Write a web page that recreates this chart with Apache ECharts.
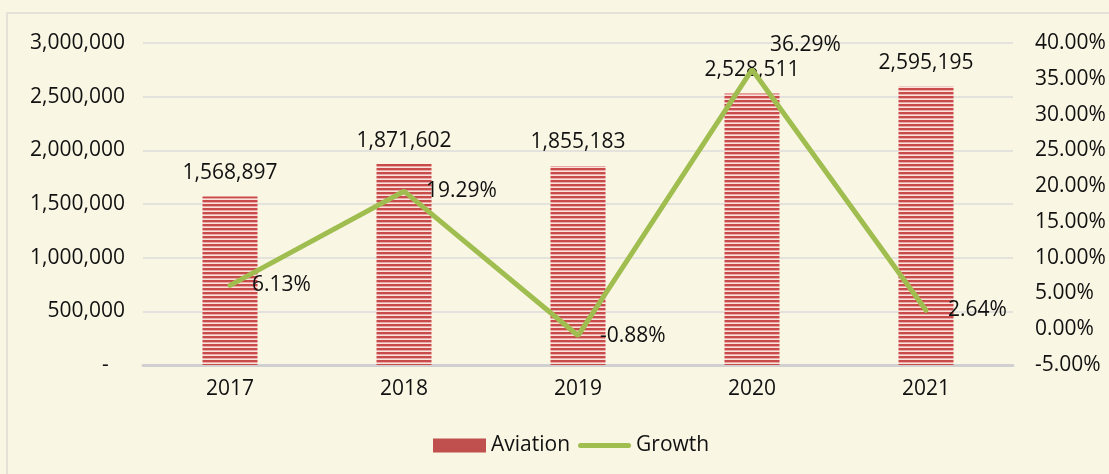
<!DOCTYPE html>
<html>
<head>
<meta charset="utf-8">
<style>
  html, body { margin: 0; padding: 0; background: #faf6e4; }
  #main { width: 1109px; height: 474px; }
</style>
<script src="https://cdn.jsdelivr.net/npm/echarts@6/dist/echarts.min.js"></script>
</head>
<body>
<div id="main"></div>
<script>
// 数据
var years = ['2017', '2018', '2019', '2020', '2021'];
var aviation = [1568897, 1871602, 1855183, 2528511, 2595195];
var growth = [6.13, 19.29, -0.88, 36.29, 2.64];

var FONT = '"Open Sans", sans-serif';
var GREEN = '#9fbe4f';

// 横条纹填充
function stripePattern() {
    var c = document.createElement('canvas');
    c.width = 4;
    c.height = 4;
    var ctx = c.getContext('2d');
    ctx.fillStyle = '#c94a4a';
    ctx.fillRect(0, 0, 4, 2);
    ctx.fillStyle = '#eba9a6';
    ctx.fillRect(0, 2, 4, 1);
    ctx.fillStyle = '#f8e2dc';
    ctx.fillRect(0, 3, 4, 1);
    return c;
}

// 增长率标签（2020 标签放在上方）
var growthLabels = growth.map(function (v, i) {
    if (i === 3) {
        return { value: v, label: { offset: [-4, -25] } };
    }
    return v;
});

var myChart = echarts.init(document.getElementById('main'));
myChart.setOption({
    backgroundColor: '#faf6e4',
    animation: false,
    textStyle: { fontFamily: FONT },
    graphic: [{
        type: 'rect',
        shape: { x: 7, y: 13, width: 1200, height: 600 },
        style: { fill: 'none', stroke: '#e5e1d6', lineWidth: 2 },
        silent: true
    }],
    grid: { left: 143, right: 96, top: 43, bottom: 109 },
    legend: {
        bottom: 13,
        left: 428,
        itemWidth: 53,
        itemHeight: 14,
        itemGap: 8,
        symbolKeepAspect: true,
        textStyle: { fontSize: 21, color: '#111', fontFamily: FONT },
        data: [
            { name: 'Aviation', icon: 'rect', itemStyle: { color: '#c0504d' } },
            {
                name: 'Growth',
                icon: 'path://M0,2.5 A2.5,2.5 0 0 1 2.5,0 L50.5,0 A2.5,2.5 0 0 1 50.5,5 L2.5,5 A2.5,2.5 0 0 1 0,2.5 Z',
                itemStyle: { color: GREEN }
            }
        ]
    },
    xAxis: {
        type: 'category',
        data: years,
        axisTick: { show: false },
        axisLine: { lineStyle: { color: '#d0d0d0', width: 3 } },
        axisLabel: { fontSize: 21, color: '#111', margin: 14, fontFamily: FONT }
    },
    yAxis: [{
        type: 'value',
        min: 0,
        max: 3000000,
        interval: 500000,
        axisLine: { show: false },
        axisTick: { show: false },
        splitLine: { lineStyle: { color: '#e4e2dc', width: 2 } },
        axisLabel: {
            fontSize: 21, color: '#111', margin: 18, fontFamily: FONT,
            formatter: function (v) { return v === 0 ? '-\u00a0\u00a0\u00a0' : v.toLocaleString('en-US'); }
        }
    }, {
        type: 'value',
        min: -5,
        max: 40,
        interval: 5,
        axisLine: { show: false },
        axisTick: { show: false },
        splitLine: { show: false },
        axisLabel: {
            fontSize: 21, color: '#111', margin: 22, fontFamily: FONT,
            formatter: function (v) { return v.toFixed(2) + '%'; }
        }
    }],
    series: [{
        name: 'Aviation',
        type: 'bar',
        barWidth: 55,
        data: aviation,
        itemStyle: { color: { image: stripePattern(), repeat: 'repeat' } },
        label: {
            show: true,
            position: 'top',
            distance: 13,
            fontSize: 21,
            color: '#111',
            fontFamily: FONT,
            formatter: function (p) { return p.value.toLocaleString('en-US'); }
        }
    }, {
        name: 'Growth',
        type: 'line',
        yAxisIndex: 1,
        symbol: 'none',
        data: growth,
        lineStyle: { color: GREEN, width: 5, cap: 'round' },
        itemStyle: { color: GREEN }
    }, {
        name: 'GrowthLabel',
        type: 'scatter',
        yAxisIndex: 1,
        symbolSize: 0,
        data: growthLabels,
        itemStyle: { color: GREEN, opacity: 1 },
        label: {
            show: true,
            position: 'right',
            distance: 22,
            fontSize: 21,
            color: '#111',
            fontFamily: FONT,
            formatter: function (p) { return p.value.toFixed(2) + '%'; }
        },
        z: 5
    }]
});
</script>
</body>
</html>
